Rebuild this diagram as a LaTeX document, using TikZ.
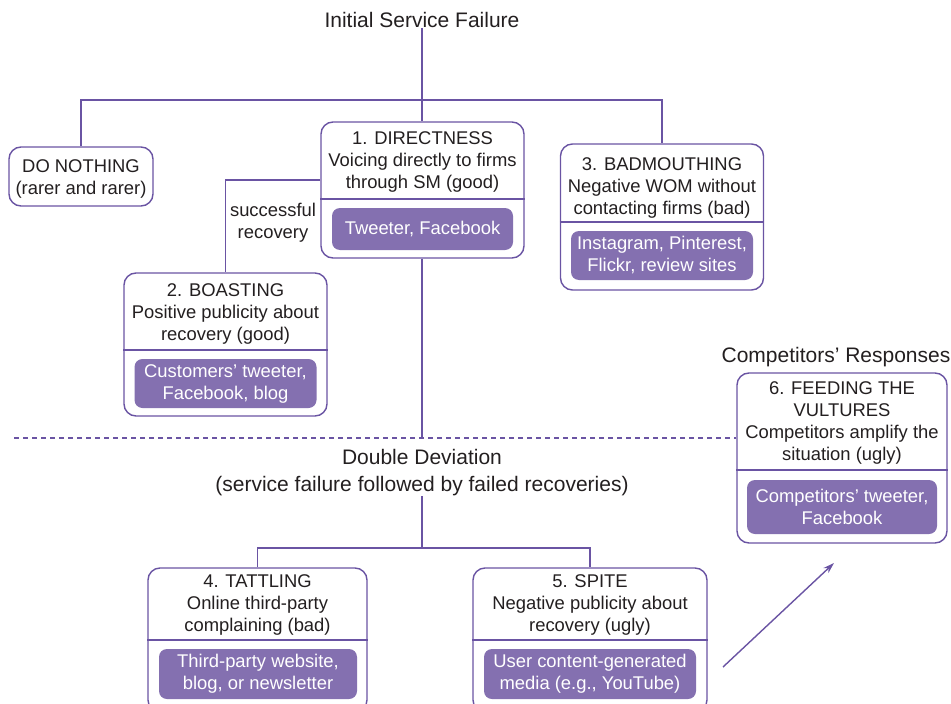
\documentclass[tikz,border=0pt]{standalone}
\usepackage{fontspec}
\setmainfont{Liberation Sans}
\usetikzlibrary{arrows.meta}
\definecolor{linepurple}{RGB}{106,84,163}
\definecolor{fillpurple}{RGB}{132,112,176}
\definecolor{ink}{RGB}{35,31,32}
\newcommand\dgboxfont{\fontsize{18.4}{22}\selectfont}
\newcommand\dgheadfont{\fontsize{21}{27}\selectfont}

\begin{document}
\begin{tikzpicture}[x=1pt,y=-1pt,
  wire/.style={draw=linepurple,line width=1.4pt},
  outerbox/.style={draw=linepurple,line width=1.4pt,rounded corners=12pt,fill=white,inner sep=0pt},
  mediabox/.style={fill=fillpurple,rounded corners=8pt,inner sep=0pt,text=white,font=\dgboxfont,align=center},
  boxtext/.style={inner sep=0pt,align=center,font=\dgboxfont,text=ink},
  headtext/.style={inner sep=0pt,align=center,font=\dgheadfont,text=ink},
]
\useasboundingbox (0,0) rectangle (951,704);

% headings
\node[headtext] (t0) at (422,20) {Initial Service Failure};
\node[headtext] (dd) at (422,472.5) {Double Deviation\\(service failure followed by failed recoveries)};
\node[headtext] (cr) at (836,357) {Competitors’ Responses};

% do nothing
\node[outerbox,minimum width=144pt,minimum height=59pt] (b0) at (81,176.5) {};
\node[boxtext] at (81,178.5) {DO NOTHING\\(rarer and rarer)};

% 1. directness
\node[outerbox,minimum width=203pt,minimum height=136pt] (b1) at (422.5,190) {};
\node[boxtext] at (422.5,162) {1. DIRECTNESS\\Voicing directly to firms\\through SM (good)};
\draw[wire] (b1.west |- 0,199) -- (b1.east |- 0,199);
\node[mediabox,minimum width=181pt,minimum height=42pt] (b1m) at (422.5,229) {Tweeter, Facebook};

% 3. badmouthing
\node[outerbox,minimum width=203pt,minimum height=146pt] (b3) at (662,217) {};
\node[boxtext] at (662,187.5) {3. BADMOUTHING\\Negative WOM without\\contacting firms (bad)};
\draw[wire] (b3.west |- 0,222) -- (b3.east |- 0,222);
\node[mediabox,minimum width=182pt,minimum height=49pt] (b3m) at (662,255.5) {Instagram, Pinterest,\\Flickr, review sites};

% 2. boasting
\node[outerbox,minimum width=203pt,minimum height=143pt] (b2) at (225.5,344.5) {};
\node[boxtext] at (225.5,314) {2. BOASTING\\Positive publicity about\\recovery (good)};
\draw[wire] (b2.west |- 0,350) -- (b2.east |- 0,350);
\node[mediabox,minimum width=182pt,minimum height=49pt] (b2m) at (225.5,383.5) {Customers’ tweeter,\\Facebook, blog};

% 6. feeding the vultures
\node[outerbox,minimum width=210pt,minimum height=170pt] (b6) at (842,458) {};
\node[boxtext] at (842,422.5) {6. FEEDING THE\\VULTURES\\Competitors amplify the\\situation (ugly)};
\draw[wire] (b6.west |- 0,470) -- (b6.east |- 0,470);
\node[mediabox,minimum width=190pt,minimum height=54pt] (b6m) at (842,507) {Competitors’ tweeter,\\Facebook};

% 4. tattling
\node[outerbox,minimum width=219pt,minimum height=144pt] (b4) at (257.5,640) {};
\node[boxtext] at (257.5,605) {4. TATTLING\\Online third-party\\complaining (bad)};
\draw[wire] (b4.west |- 0,640) -- (b4.east |- 0,640);
\node[mediabox,minimum width=198pt,minimum height=50pt] (b4m) at (258,674) {Third-party website,\\blog, or newsletter};

% 5. spite
\node[outerbox,minimum width=234pt,minimum height=144pt] (b5) at (590,640) {};
\node[boxtext] at (590,605) {5. SPITE\\Negative publicity about\\recovery (ugly)};
\draw[wire] (b5.west |- 0,640) -- (b5.east |- 0,640);
\node[mediabox,minimum width=212pt,minimum height=50pt] (b5m) at (590,674) {User content-generated\\media (e.g., YouTube)};

% tree from the initial failure
\coordinate (j1) at (422,100);
\draw[wire] (t0.south) -- (j1);
\draw[wire] (b0.north) |- (j1) -| (b3.north);
\draw[wire] (j1) -- (b1.north -| j1);

% successful recovery branch
\draw[wire] (b1.west |- 0,180) -| (b2.north);
\node[boxtext] (sr) at (273,223) {successful\\recovery};

% boundary of the double deviation zone
\coordinate (dstart) at (14,438);
\draw[wire,line width=1.2pt,dash pattern=on 5pt off 4pt] (dstart) -- (dstart -| b6.west);
\draw[wire] (b1.south -| j1) -- (dstart -| j1);

% tree from the double deviation
\coordinate (j2) at (422,548);
\draw[wire] (dd.south -| j2) -- (j2);
\draw[wire] (b4.north) |- (j2) -| (b5.north);

% escalation towards competitors
\coordinate (a0) at (723,667);
\coordinate (a1) at (834,563);
\draw[wire,-{Stealth[length=11pt,width=7pt]}] (a0) -- (a1);
\end{tikzpicture}
\end{document}
